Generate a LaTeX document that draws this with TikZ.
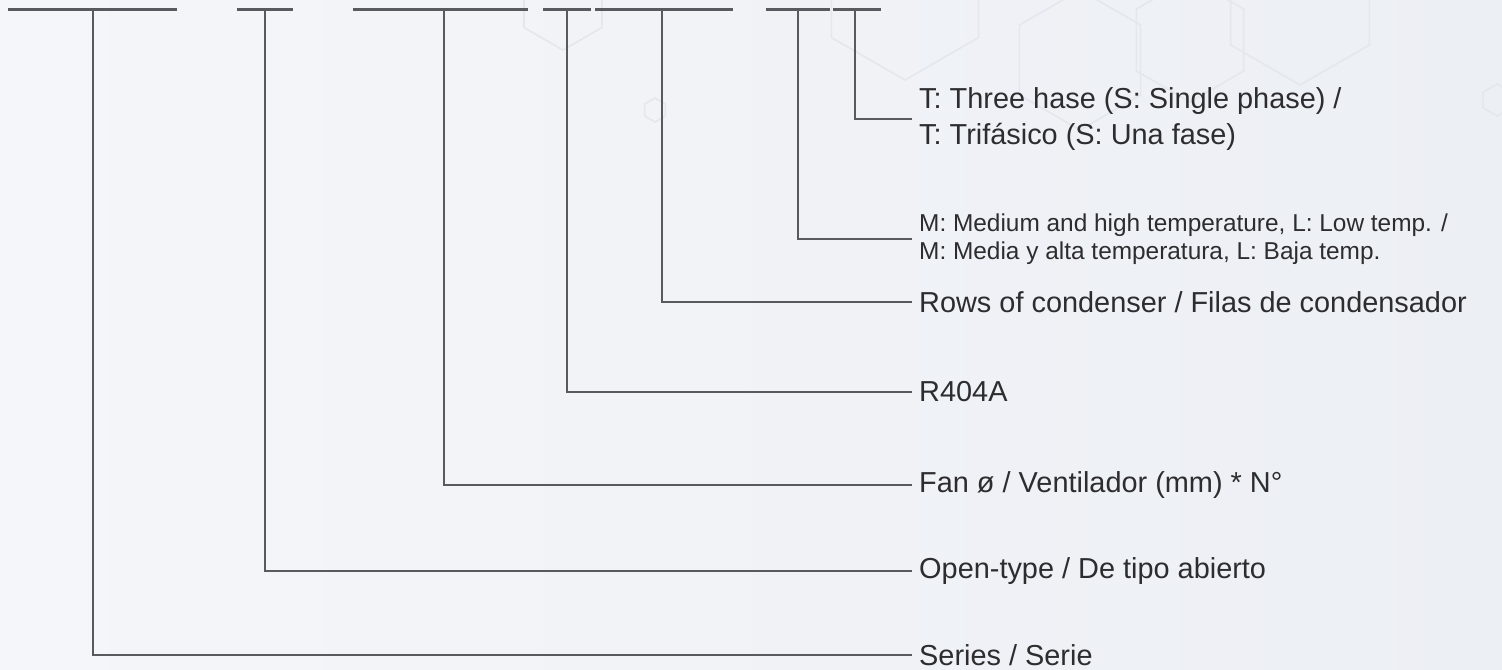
\documentclass[tikz,border=0pt]{standalone}
\usepackage{fontspec}
\setmainfont{Liberation Sans}
\usetikzlibrary{positioning}
\definecolor{codegray}{RGB}{88, 90, 95}
\definecolor{codetext}{RGB}{45, 45, 48}
\definecolor{bgleft}{RGB}{245, 246, 249}
\definecolor{bgright}{RGB}{236, 239, 244}
\definecolor{hexline}{RGB}{228, 231, 237}

\begin{document}
\begin{tikzpicture}[x=1bp, y=-1bp,
        codebar/.style={draw=codegray, line width=2.8bp},
        lead/.style={draw=codegray, line width=2.4bp},
        codelabel/.style={anchor=west, inner xsep=7bp, inner ysep=0pt, align=left, text=codetext, font=\fontsize{29}{37}\selectfont},
        smalllabel/.style={codelabel, font=\fontsize{24.5}{28}\selectfont}]
        \useasboundingbox (0,0) rectangle (1502,670);
        \shade[left color=bgleft, right color=bgright] (0,0) rectangle (1502,670);
        \foreach \cx/\cy/\r in {905/-5/85, 1080/60/70, 1190/40/62, 1300/5/80, 563/5/45, 655/110/12, 1497/100/16}
            \draw[hexline, line width=1.6bp] (\cx,\cy) +(30:\r) -- +(90:\r) -- +(150:\r) -- +(210:\r) -- +(270:\r) -- +(330:\r) -- cycle;
        % code blocks along the top
        \foreach \n/\a/\b/\s in {ser/8/177/92.7, opn/237/293/265, fan/353/528/444, ref/543/591/567, row/595/733/662, tmp/766/830/798, phs/833/881/855} {
            \draw[codebar] (\a,9.5) -- (\b,9.5);
            \coordinate (\n) at (\s,9.5);
        }
        \node (phase) [codelabel] at (912,119) {T: Three hase (S: Single phase) /\\T: Trifásico (S: Una fase)};
        \node (temp) [smalllabel] at (912,239) {M: Medium and high temperature, L: Low temp. /\\M: Media y alta temperatura, L: Baja temp.};
        \node (rows) [codelabel] at (912,302) {Rows of condenser / Filas de condensador};
        \node (refr) [codelabel] at (912,392) {R404A};
        \node (fanlbl) [codelabel] at (912,485) {Fan ø / Ventilador (mm) * N°};
        \node (open) [codelabel] at (912,571) {Open-type / De tipo abierto};
        \node (series) [codelabel] at (912,655) {Series / Serie};
        \draw[lead] (phs) |- (phase.west);
        \draw[lead] (tmp) |- (temp.west);
        \draw[lead] (row) |- (rows.west);
        \draw[lead] (ref) |- (refr.west);
        \draw[lead] (fan) |- (fanlbl.west);
        \draw[lead] (opn) |- (open.west);
        \draw[lead] (ser) |- (series.west);
    \end{tikzpicture}
\end{document}
